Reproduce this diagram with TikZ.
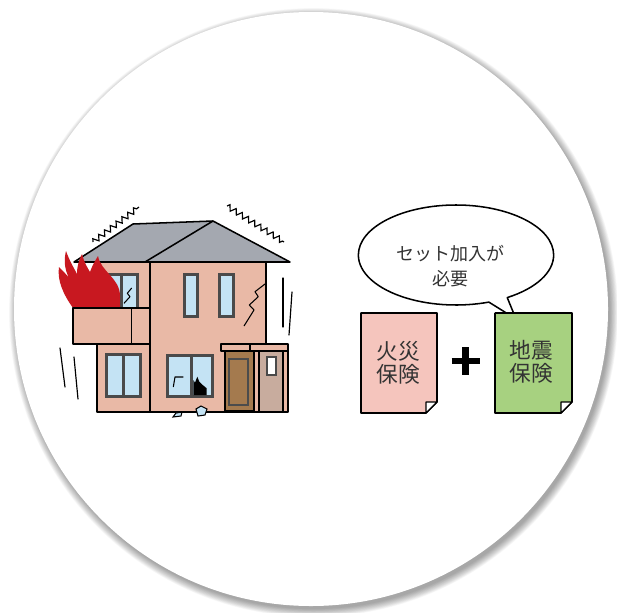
\documentclass[tikz,border=0pt]{standalone}
\usepackage{fontspec}
\newfontfamily\jpfont{Noto Sans CJK JP}
\usetikzlibrary{shapes.callouts,decorations.pathmorphing}

\definecolor{wallpink}{HTML}{E9B9A6}
\definecolor{roofgray}{HTML}{A4A8B0}
\definecolor{glass}{HTML}{C4E3F4}
\definecolor{framegray}{HTML}{4A4A4A}
\definecolor{flame}{HTML}{C81820}
\definecolor{doorbrown}{HTML}{A47A4E}
\definecolor{panel}{HTML}{C8AC9E}
\definecolor{firepink}{HTML}{F5C5BD}
\definecolor{quakegreen}{HTML}{A7D180}
\definecolor{ink}{HTML}{333333}

\tikzset{
  outline/.style={draw=black,line width=1.3pt,line join=round},
  shake/.style={draw=black,line width=1pt,line cap=round},
  quiver/.style={draw=black,line width=1pt,decorate,decoration={zigzag,segment length=6.2pt,amplitude=2.3pt}},
  crack/.style={draw=black,line width=0.9pt,line join=round},
  doctext/.style={font=\jpfont\fontsize{18.4pt}{19.8pt}\selectfont,text=ink,align=center,inner sep=0pt},
  bubbletext/.style={font=\jpfont\fontsize{15.3pt}{21.2pt}\selectfont,text=ink,align=center,inner sep=0pt},
}

% window: dark frame with a glass pane inside
\newcommand{\sash}[4]{%
  \fill[framegray] (#1,#2) rectangle (#3,#4);
  \fill[glass] (#1+3,#2+3) rectangle (#3-3,#4-3);
}
% insurance sheet with a folded corner
\newcommand{\sheet}[5]{%
  \filldraw[outline,fill=#5] (#1,#2) -- (#3,#2) -- (#3,#4-11) -- (#3-11,#4) -- (#1,#4) -- cycle;
  \filldraw[outline,fill=white,line width=1pt] (#3-11,#4-11) -- (#3,#4-11) -- (#3-11,#4) -- cycle;
}

\begin{document}
\begin{tikzpicture}[x=0.85pt,y=-0.85pt]
\useasboundingbox (0,0) rectangle (617,612);
\fill[white] (0,0) rectangle (617,612);

% round plate with a soft shadow
\foreach \k in {1,...,14}
  \fill[black,opacity=0.028] (313.5,312.5) circle (296+\k*0.6);
\fill[white] (311,309) circle (297);

%% house
\draw[shake] (60,348) -- (65,387);
\draw[shake] (74,357) -- (78,399);
\draw[shake] (283,278) -- (283,327);
\draw[shake] (292,292) -- (289,335);
\draw[quiver] (93,242) -- (139,207);
\draw[quiver] (227,206) -- (284,242);

\filldraw[outline,fill=wallpink] (97,262) rectangle (150,412);
\filldraw[outline,fill=wallpink] (150,262) rectangle (266,412);
\filldraw[outline,fill=roofgray] (74,262) -- (133,224) -- (213,221) -- (290,262) -- cycle;
\draw[outline] (145,262) -- (213,221);

% upper floor, left wing
\sash{104}{273}{139}{312}
\draw[framegray,line width=2pt] (121.5,273) -- (121.5,312);
\draw[crack] (131.7,288) -- (127.3,293.3) -- (130,296.7) -- (124,303.3);

\fill[flame] (73,308) .. controls (63,294) and (57,280) .. (59,267)
  .. controls (63,271) and (66,274) .. (69,278)
  .. controls (64,268) and (64,259) .. (66,251)
  .. controls (70,262) and (74,268) .. (77,274)
  .. controls (77,266) and (79,260) .. (82,254)
  .. controls (84,262) and (87,267) .. (90,272)
  .. controls (92,266) and (95,261) .. (98,256)
  .. controls (101,272) and (120,278) .. (120,296)
  -- (120,308) -- cycle;

\filldraw[outline,fill=wallpink] (73,308) rectangle (150,344);
\draw[outline] (131.7,308) -- (131.7,344);

% upper floor, front
\sash{183}{273}{199}{318}
\sash{218}{273}{235}{318}
\draw[crack] (265,284) -- (255,291.7) -- (258.3,296.7) -- (249.3,305) -- (254,310) -- (244,326);

% ground floor
\sash{105}{353}{142}{398}
\draw[framegray,line width=2pt] (123.5,353) -- (123.5,398);
\sash{166}{354}{214}{398}
\draw[framegray,line width=2pt] (191.5,354) -- (191.5,398);
\fill[black] (193.3,395) -- (193.3,380) -- (195,382.7) -- (197.3,376.7) -- (199.3,381.7)
  -- (202.7,385) -- (206.7,388.3) -- (206.7,395) -- cycle;
\draw[crack] (173.3,387) -- (175,377) -- (183.3,377);

% entrance
\filldraw[outline,fill=wallpink] (254,351) rectangle (288,412);
\filldraw[outline,fill=panel] (259,351) rectangle (283,412);
\filldraw[fill=white,draw=framegray,line width=1.5pt] (267,357) rectangle (276,375);
\filldraw[outline,fill=doorbrown] (225,351) rectangle (254,411);
\draw[draw=black!70,line width=1pt] (229,359) rectangle (248,405);
\filldraw[outline,fill=wallpink] (221,344) rectangle (288,351);
\draw[outline] (250,344) -- (250,351);

% fallen pieces
\filldraw[line width=0.9pt,fill=glass] (196,409) -- (201,406) -- (207,409) -- (205,415) -- (198,416) -- cycle;
\filldraw[line width=0.9pt,fill=glass] (173,417) -- (176,413) -- (182,412) -- (181,416) -- cycle;

%% insurance
\node[ellipse callout,outline,fill=white,minimum width=166pt,minimum height=85pt,inner sep=0pt,
  callout absolute pointer={(516,319)},callout pointer arc=12] (bubble) at (456,255) {};
\node[bubbletext] (need) at (450,266) {セット加入が\\必要};

\sheet{361}{313}{437}{413}{firepink}
\node[doctext] (fire) at (398.5,363) {火災\\保険};

\draw[line width=5.5pt] (451.5,361) -- (479.5,361) (465.5,347) -- (465.5,375);

\sheet{495}{313}{572}{413}{quakegreen}
\node[doctext] (quake) at (531,362) {地震\\保険};
\end{tikzpicture}
\end{document}
